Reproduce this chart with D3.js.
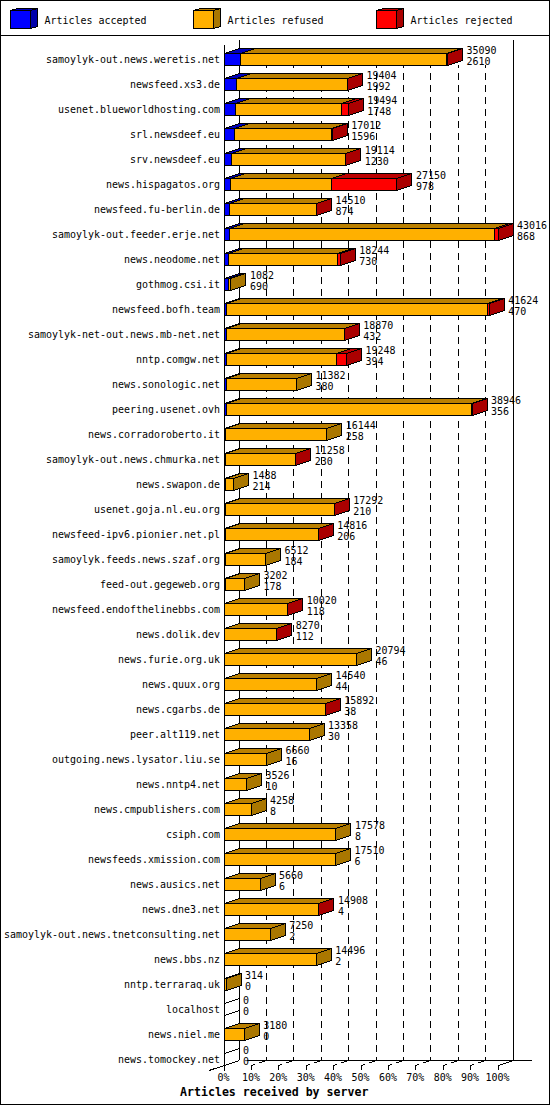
<!DOCTYPE html>
<html><head><meta charset="utf-8">
<script src="https://cdnjs.cloudflare.com/ajax/libs/d3/7.8.5/d3.min.js"></script>
<style>
html,body{margin:0;padding:0;background:#fff}
svg{display:block}
text{font-family:"DejaVu Sans Mono",monospace;font-size:9.97px;fill:#000}
</style></head><body><svg id="c" width="550" height="1105"></svg>
<script>
const servers=["samoylyk-out.news.weretis.net","newsfeed.xs3.de","usenet.blueworldhosting.com","srl.newsdeef.eu","srv.newsdeef.eu","news.hispagatos.org","newsfeed.fu-berlin.de","samoylyk-out.feeder.erje.net","news.neodome.net","gothmog.csi.it","newsfeed.bofh.team","samoylyk-net-out.news.mb-net.net","nntp.comgw.net","news.sonologic.net","peering.usenet.ovh","news.corradoroberto.it","samoylyk-out.news.chmurka.net","news.swapon.de","usenet.goja.nl.eu.org","newsfeed-ipv6.pionier.net.pl","samoylyk.feeds.news.szaf.org","feed-out.gegeweb.org","newsfeed.endofthelinebbs.com","news.dolik.dev","news.furie.org.uk","news.quux.org","news.cgarbs.de","peer.alt119.net","outgoing.news.lysator.liu.se","news.nntp4.net","news.cmpublishers.com","csiph.com","newsfeeds.xmission.com","news.ausics.net","news.dne3.net","samoylyk-out.news.tnetconsulting.net","news.bbs.nz","nntp.terraraq.uk","localhost","news.niel.me","news.tomockey.net"];
const totals=[35090,19404,19494,17012,19114,27150,14510,43016,18244,1082,41624,18870,19248,11382,38946,16144,11258,1488,17292,14816,6512,3202,10020,8270,20794,14540,15892,13358,6660,3526,4258,17578,17510,5660,14908,7250,14496,314,0,3180,0];
const accepted=[2610,1992,1748,1596,1230,978,874,868,730,690,470,432,394,380,356,258,230,214,210,206,184,178,118,112,46,44,38,30,16,10,8,8,6,6,4,2,2,0,0,0,0];
const rejected=[150,60,1020,100,60,10300,60,600,400,0,200,30,1550,0,40,0,30,0,20,20,0,0,20,20,0,0,20,0,0,0,0,0,0,0,20,0,0,0,0,0,0];
const legendLabels=["Articles accepted","Articles refused","Articles rejected"];
const percentTicks=[0,10,20,30,40,50,60,70,80,90,100];
const colors={accepted:["#0000ff","#0000bb","#0000aa"],refused:["#ffb000","#bb8000","#aa7700"],rejected:["#ff0000","#bb0000","#aa0000"]};
const keys=["accepted","refused","rejected"];

const svg=d3.select("#c");
const x=d3.scaleLinear().domain([0,43016]).range([224,498]);
const pct=d3.scaleLinear().domain([0,100]).range([224,498]);
const y=d3.scalePoint().domain(servers).range([53,1053]);
const barH=12,dx=15,dy=5;
const px=v=>Math.floor(v)+0.5;
const BL="#000";

svg.append("rect").attr("x",.5).attr("y",.5).attr("width",549).attr("height",1104).attr("fill","#fff").attr("stroke",BL);
svg.append("line").attr("x1",0).attr("x2",550).attr("y1",35.5).attr("y2",35.5).attr("stroke",BL);

function poly(g,pts,fill){
  g.append("polygon").attr("points",pts.map(p=>p.join(",")).join(" "))
   .attr("fill",fill).attr("stroke",BL).attr("shape-rendering","crispEdges");
}
// legend
const lg=svg.append("g");
legendLabels.forEach((t,i)=>{
  const c=colors[keys[i]],X=10.5+183*i;
  poly(lg,[[X,10.5],[X+20,10.5],[X+27,8.5],[X+7,8.5]],c[1]);
  poly(lg,[[X+20,10.5],[X+27,8.5],[X+27,26.5],[X+20,28.5]],c[2]);
  poly(lg,[[X,10.5],[X+20,10.5],[X+20,28.5],[X,28.5]],c[0]);
  lg.append("text").attr("x",X+34).attr("y",24).text(t);
});
// walls and grid
const grid=svg.append("g").attr("stroke",BL).attr("shape-rendering","crispEdges");
percentTicks.slice(1,10).forEach(p=>{
  const X=px(pct(p)+dx);
  grid.append("line").attr("x1",X).attr("x2",X).attr("y1",65).attr("y2",1060).attr("stroke-dasharray","7 5").attr("stroke-dashoffset",4);
  grid.append("line").attr("x1",px(pct(p))).attr("x2",X).attr("y1",1065.5).attr("y2",1060.5).attr("stroke-dasharray","4 4 8");
});
[[239.5,40,239.5,1060],[513.5,40,513.5,1060],[224.5,45,224.5,1071],[247,1060.5,532,1060.5],[209,1070.5,239.5,1060.5],[498.5,1065.5,513.5,1060.5]].forEach(l=>
  grid.append("line").attr("x1",l[0]).attr("y1",l[1]).attr("x2",l[2]).attr("y2",l[3]));
// x axis
const ax=svg.append("g").attr("transform","translate(-0.5,1065)")
  .call(d3.axisBottom(pct).tickValues(percentTicks).tickFormat(d=>d+"%").tickSize(5).tickPadding(4));
ax.select(".domain").remove();
ax.selectAll("line").attr("stroke",BL).attr("shape-rendering","crispEdges");
ax.selectAll("text").attr("dx",-0.5).style("font-family",'"DejaVu Sans Mono",monospace').style("font-size","9.97px");
svg.append("text").attr("x",180).attr("y",1096).style("font-weight","bold").style("font-size","11.6px").text("Articles received by server");
// bars
const bars=svg.append("g");
servers.forEach((s,i)=>{
  const top=y(s)+.5,bot=top+barH;
  const segs=[["accepted",accepted[i]],["refused",totals[i]-accepted[i]-rejected[i]],["rejected",rejected[i]]];
  let acc=0,last=null;
  const g=bars.append("g");
  segs.forEach(([k,v])=>{
    if(v<=0) return;
    const a=px(x(acc)),b=px(x(acc+v));acc+=v;last=[k,b];
    poly(g,[[a,top],[b,top],[b+dx,top-dy],[a+dx,top-dy]],colors[k][1]);
    poly(g,[[a,top],[b,top],[b,bot],[a,bot]],colors[k][0]);
  });
  if(last){
    const b=last[1];
    poly(g,[[b,top],[b+dx,top-dy],[b+dx,bot-dy],[b,bot]],colors[last[0]][2]);
  }else{
    const a=px(x(0));
    [top,bot].forEach(Y=>g.append("line").attr("x1",a).attr("x2",a+dx).attr("y1",Y).attr("y2",Y-dy).attr("stroke",BL).attr("shape-rendering","crispEdges"));
  }
});
// labels
const labels=svg.append("g");
servers.forEach((s,i)=>{
  const Y=y(s);
  labels.append("text").attr("x",220).attr("y",Y+10).attr("text-anchor","end").text(s);
  const X=x(totals[i])+19;
  labels.append("text").attr("x",X).attr("y",Y+1).text(totals[i]);
  labels.append("text").attr("x",X).attr("y",Y+12).text(accepted[i]);
});
</script></body></html>
